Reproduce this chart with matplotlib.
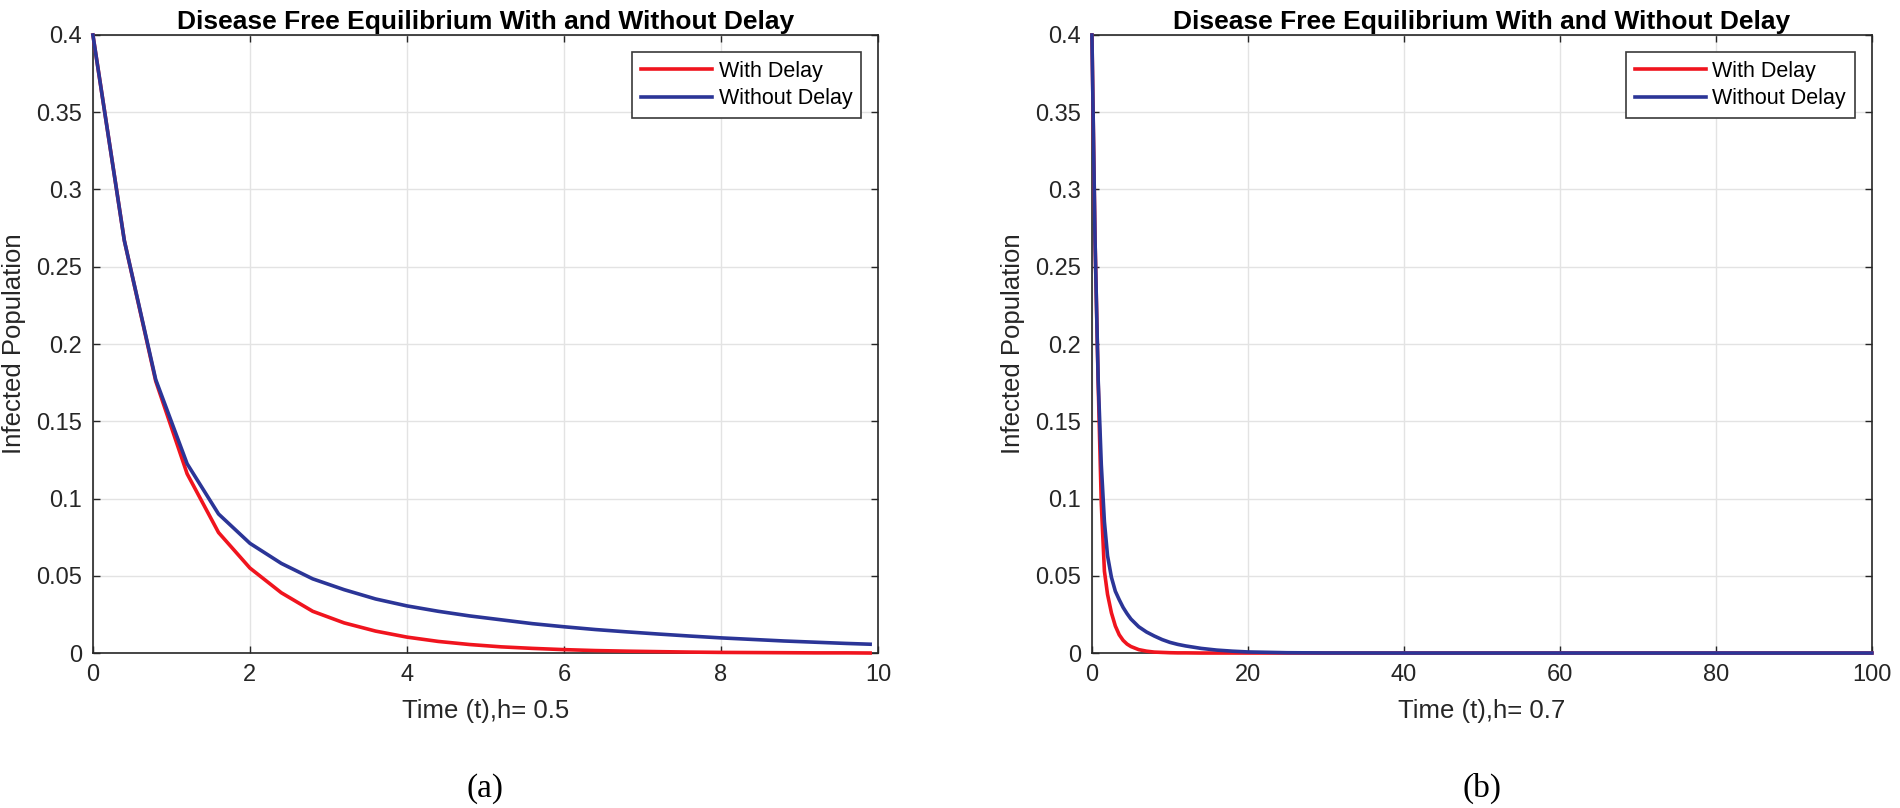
import matplotlib
matplotlib.use('Agg')
import matplotlib.pyplot as plt
from matplotlib.ticker import FuncFormatter

plt.rcParams['font.family'] = ['Liberation Sans', 'DejaVu Sans']

# (a) h = 0.5
t_a = [0, 0.4, 0.8, 1.2, 1.6, 2.0, 2.4, 2.8, 3.2, 3.6, 4.0, 4.4, 4.8, 5.2,
       5.6, 6.0, 6.4, 6.8, 7.2, 7.6, 8.0, 8.4, 8.8, 9.2, 9.6, 9.9]
delay_a = [0.4, 0.267, 0.176, 0.116, 0.078, 0.055, 0.039, 0.027, 0.0195,
           0.0142, 0.0103, 0.0075, 0.0055, 0.004, 0.003, 0.0022, 0.0016,
           0.0012, 0.0009, 0.0006, 0.0004, 0.0003, 0.0002, 0.0001, 0.0001, 0.0]
nodelay_a = [0.4, 0.267, 0.177, 0.1225, 0.090, 0.071, 0.058, 0.048, 0.041,
             0.035, 0.0305, 0.027, 0.024, 0.0215, 0.019, 0.017, 0.0152,
             0.0137, 0.0123, 0.011, 0.0098, 0.0088, 0.0078, 0.007, 0.0062, 0.0057]

# (b) h = 0.7
t_b = [0, 0.4, 0.8, 1.2, 1.6, 2.0, 2.5, 3.0, 3.5, 4.0, 4.5, 5.0, 6.0, 7.0,
       8.0, 9.0, 10.0, 11.0, 12.0, 14.0, 16.0, 18.0, 20.0, 25.0, 30.0,
       40.0, 50.0, 60.0, 70.0, 80.0, 90.0, 100.0]
delay_b = [0.4, 0.267, 0.175, 0.097, 0.053, 0.038, 0.026, 0.0175, 0.0118,
           0.0082, 0.0058, 0.0042, 0.0022, 0.0012, 0.0006, 0.0004, 0.0002,
           0.0001, 0.0001, 0.0, 0.0, 0.0, 0.0, 0.0, 0.0,
           0.0, 0.0, 0.0, 0.0, 0.0, 0.0, 0.0]
nodelay_b = [0.4, 0.267, 0.177, 0.122, 0.085, 0.063, 0.049, 0.040, 0.0345,
             0.0295, 0.0255, 0.022, 0.017, 0.0136, 0.011, 0.0087, 0.0069,
             0.0056, 0.0046, 0.003, 0.0019, 0.0012, 0.0007, 0.0002, 0.00005,
             0.0, 0.0, 0.0, 0.0, 0.0, 0.0, 0.0]

xticks_a = [0, 2, 4, 6, 8, 10]
xticks_b = [0, 20, 40, 60, 80, 100]
yticks = [0, 0.05, 0.1, 0.15, 0.2, 0.25, 0.3, 0.35, 0.4]

RED = '#f0141e'
BLUE = '#2b3597'
TXT = '#262626'

fig = plt.figure(figsize=(19, 8.08), dpi=100)
ax1 = fig.add_axes([0.0489, 0.1918, 0.4132, 0.7649])
ax2 = fig.add_axes([0.5747, 0.1918, 0.4105, 0.7649])

panels = [(ax1, t_a, delay_a, nodelay_a, xticks_a, 'Time (t),h= 0.5', '(a)'),
          (ax2, t_b, delay_b, nodelay_b, xticks_b, 'Time (t),h= 0.7', '(b)')]

for ax, t, d, nd, xt, xlab, tag in panels:
    ax.plot(t, d, color=RED, lw=2.6, label='With Delay', clip_on=False, zorder=3)
    ax.plot(t, nd, color=BLUE, lw=2.6, label='Without Delay', clip_on=False, zorder=3)
    ax.set_xlim(xt[0], xt[-1])
    ax.set_ylim(0, 0.4)
    ax.set_xticks(xt)
    ax.set_yticks(yticks)
    ax.yaxis.set_major_formatter(FuncFormatter(lambda v, p: '%g' % v))
    ax.grid(True, color='#e3e3e3', lw=1.0)
    ax.set_axisbelow(True)
    ax.tick_params(direction='in', top=True, right=True, length=5, width=1,
                   labelsize=17, colors=TXT, pad=8)
    for s in ax.spines.values():
        s.set_color('#262626')
        s.set_linewidth(1.2)
    ax.set_title('Disease Free Equilibrium With and Without Delay',
                 fontsize=19, fontweight='bold', pad=4.5)
    ax.set_xlabel(xlab, fontsize=18.5, color=TXT, labelpad=9)
    ax.set_ylabel('Infected Population', fontsize=18.5, color=TXT, labelpad=7)
    leg = ax.legend(loc='upper right', fontsize=15.5, frameon=True, fancybox=False,
                    framealpha=1, edgecolor='#3a3a3a', borderpad=0.4,
                    labelspacing=0.3, handlelength=3.3, handletextpad=0.3,
                    borderaxespad=0.8)
    leg.get_frame().set_linewidth(1.2)
    pos = ax.get_position()
    fig.text(pos.x0 + pos.width / 2, 0.024, tag, ha='center', va='center',
             fontsize=24, family=['Liberation Serif', 'DejaVu Serif'])

fig.savefig('out.png', dpi=100)
